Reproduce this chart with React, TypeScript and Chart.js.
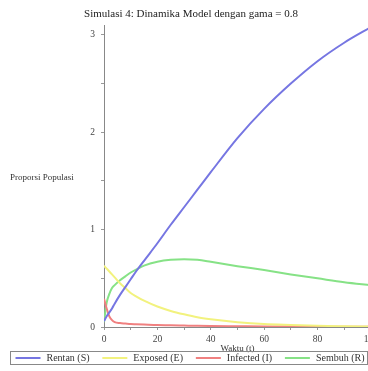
import React, { useEffect, useRef } from "react";
import { Chart, registerables } from "chart.js";

Chart.register(...registerables);

// ---- data ----
const TIME = [0, 1, 2, 3, 4, 6, 8, 10, 12, 15, 20, 25, 30, 35, 40, 50, 60, 70, 80, 90, 100];
const RENTAN_S = [0.06, 0.11, 0.15, 0.19, 0.24, 0.33, 0.41, 0.49, 0.57, 0.68, 0.86, 1.05, 1.23, 1.41, 1.59, 1.94, 2.24, 2.5, 2.73, 2.92, 3.08];
const EXPOSED_E = [0.63, 0.6, 0.57, 0.54, 0.51, 0.45, 0.4, 0.35, 0.315, 0.27, 0.21, 0.165, 0.13, 0.1, 0.08, 0.05, 0.03, 0.02, 0.012, 0.008, 0.005];
const INFECTED_I = [0.29, 0.19, 0.11, 0.07, 0.05, 0.04, 0.035, 0.03, 0.028, 0.025, 0.02, 0.018, 0.015, 0.012, 0.01, 0.008, 0.006, 0.005, 0.004, 0.003, 0.003];
const SEMBUH_R = [0.05, 0.25, 0.34, 0.4, 0.43, 0.48, 0.52, 0.56, 0.59, 0.63, 0.67, 0.69, 0.695, 0.69, 0.67, 0.625, 0.585, 0.54, 0.5, 0.46, 0.43];

const SERIES_LABELS = ["Rentan (S)", "Exposed (E)", "Infected (I)", "Sembuh (R)"];
const SERIES_COLORS = ["#7676e2", "#f2f27e", "#f08080", "#86e286"];
const TITLE = "Simulasi 4: Dinamika Model dengan gama = 0.8";
const X_TITLE = "Waktu (t)";
const Y_TITLE = "Proporsi Populasi";
const X_MAX = 100;
const Y_MAX = 3.1;

const FONT = "'Liberation Serif', 'Times New Roman', serif";

export default function App() {
  const ref = useRef<HTMLCanvasElement>(null);

  useEffect(() => {
    document.body.style.margin = "0";
    document.body.style.overflow = "hidden";
    if (!ref.current) return;

    const seriesValues = [RENTAN_S, EXPOSED_E, INFECTED_I, SEMBUH_R];

    const yLabelPlugin = {
      id: "yLabelHorizontal",
      afterDraw(chart: any) {
        const ctx = chart.ctx;
        ctx.save();
        ctx.font = `9px ${FONT}`;
        ctx.fillStyle = "#333";
        ctx.textAlign = "left";
        ctx.textBaseline = "middle";
        ctx.fillText(Y_TITLE, 10, 178);
        ctx.restore();
      },
    };

    const legendPlugin = {
      id: "boxedLegend",
      afterDraw(chart: any) {
        const ctx = chart.ctx;
        const left = 10.5;
        const right = 367.5;
        const top = 351.5;
        const bottom = 364.5;
        ctx.save();
        ctx.strokeStyle = "#888";
        ctx.lineWidth = 1;
        ctx.strokeRect(left, top, right - left, bottom - top);
        ctx.font = `10px ${FONT}`;
        ctx.textBaseline = "middle";
        ctx.textAlign = "left";
        const sw = 25;
        const gap = 6;
        const widths = chart.data.datasets.map((d: any) => sw + gap + ctx.measureText(d.label).width);
        const total = widths.reduce((a: number, b: number) => a + b, 0);
        const spacing = (right - left - 8 - total) / (widths.length - 1);
        let x = left + 5;
        const cy = (top + bottom) / 2;
        chart.data.datasets.forEach((d: any, i: number) => {
          ctx.strokeStyle = d.borderColor;
          ctx.lineWidth = 2;
          ctx.beginPath();
          ctx.moveTo(x, cy);
          ctx.lineTo(x + sw, cy);
          ctx.stroke();
          ctx.fillStyle = "#333";
          ctx.fillText(d.label, x + sw + gap, cy + 0.5);
          x += widths[i] + spacing;
        });
        ctx.restore();
      },
    };

    const chart = new Chart(ref.current, {
      type: "line",
      data: {
        datasets: SERIES_LABELS.map((label, i) => ({
          label,
          data: TIME.map((t, k) => ({ x: t, y: seriesValues[i][k] })),
          borderColor: SERIES_COLORS[i],
          backgroundColor: SERIES_COLORS[i],
          borderWidth: 2,
          pointRadius: 0,
          cubicInterpolationMode: "monotone" as const,
          fill: false,
        })),
      },
      options: {
        animation: false,
        responsive: true,
        maintainAspectRatio: false,
        layout: { padding: { left: 0, right: 0, top: 0, bottom: 20 } },
        plugins: {
          legend: { display: false },
          tooltip: { enabled: false },
          title: {
            display: true,
            text: TITLE,
            color: "#222",
            font: { family: FONT, size: 11, weight: "normal" },
            padding: { top: 8, bottom: 4 },
          },
        },
        scales: {
          x: {
            type: "linear",
            min: 0,
            max: X_MAX,
            grid: { display: true, drawOnChartArea: false, drawTicks: true, tickLength: 3, color: "#999" },
            border: { display: true, color: "#888", width: 1 },
            ticks: {
              stepSize: 10,
              padding: 4,
              color: "#444",
              font: { family: FONT, size: 9.5 },
              maxRotation: 0,
              autoSkip: false,
              callback: (v: any) => (Number(v) % 20 === 0 ? String(v) : ""),
            },
            title: {
              display: true,
              text: X_TITLE,
              color: "#333",
              font: { family: FONT, size: 9 },
              padding: { top: 0, bottom: -3 },
            },
            afterFit: (scale: any) => {
              scale.height = 24;
            },
          },
          y: {
            type: "linear",
            min: 0,
            max: Y_MAX,
            grid: { display: true, drawOnChartArea: false, drawTicks: true, tickLength: 3, color: "#999" },
            border: { display: true, color: "#888", width: 1 },
            ticks: {
              stepSize: 0.5,
              includeBounds: false,
              padding: 6,
              color: "#444",
              font: { family: FONT, size: 9.5 },
              autoSkip: false,
              callback: (v: any) => (Number.isInteger(Number(v)) ? String(v) : ""),
            },
            afterFit: (scale: any) => {
              scale.width = 104;
            },
          },
        },
      },
      plugins: [yLabelPlugin, legendPlugin],
    });

    return () => chart.destroy();
  }, []);

  return (
    <div style={{ position: "relative", width: 382, height: 371 }}>
      <canvas ref={ref} />
    </div>
  );
}
